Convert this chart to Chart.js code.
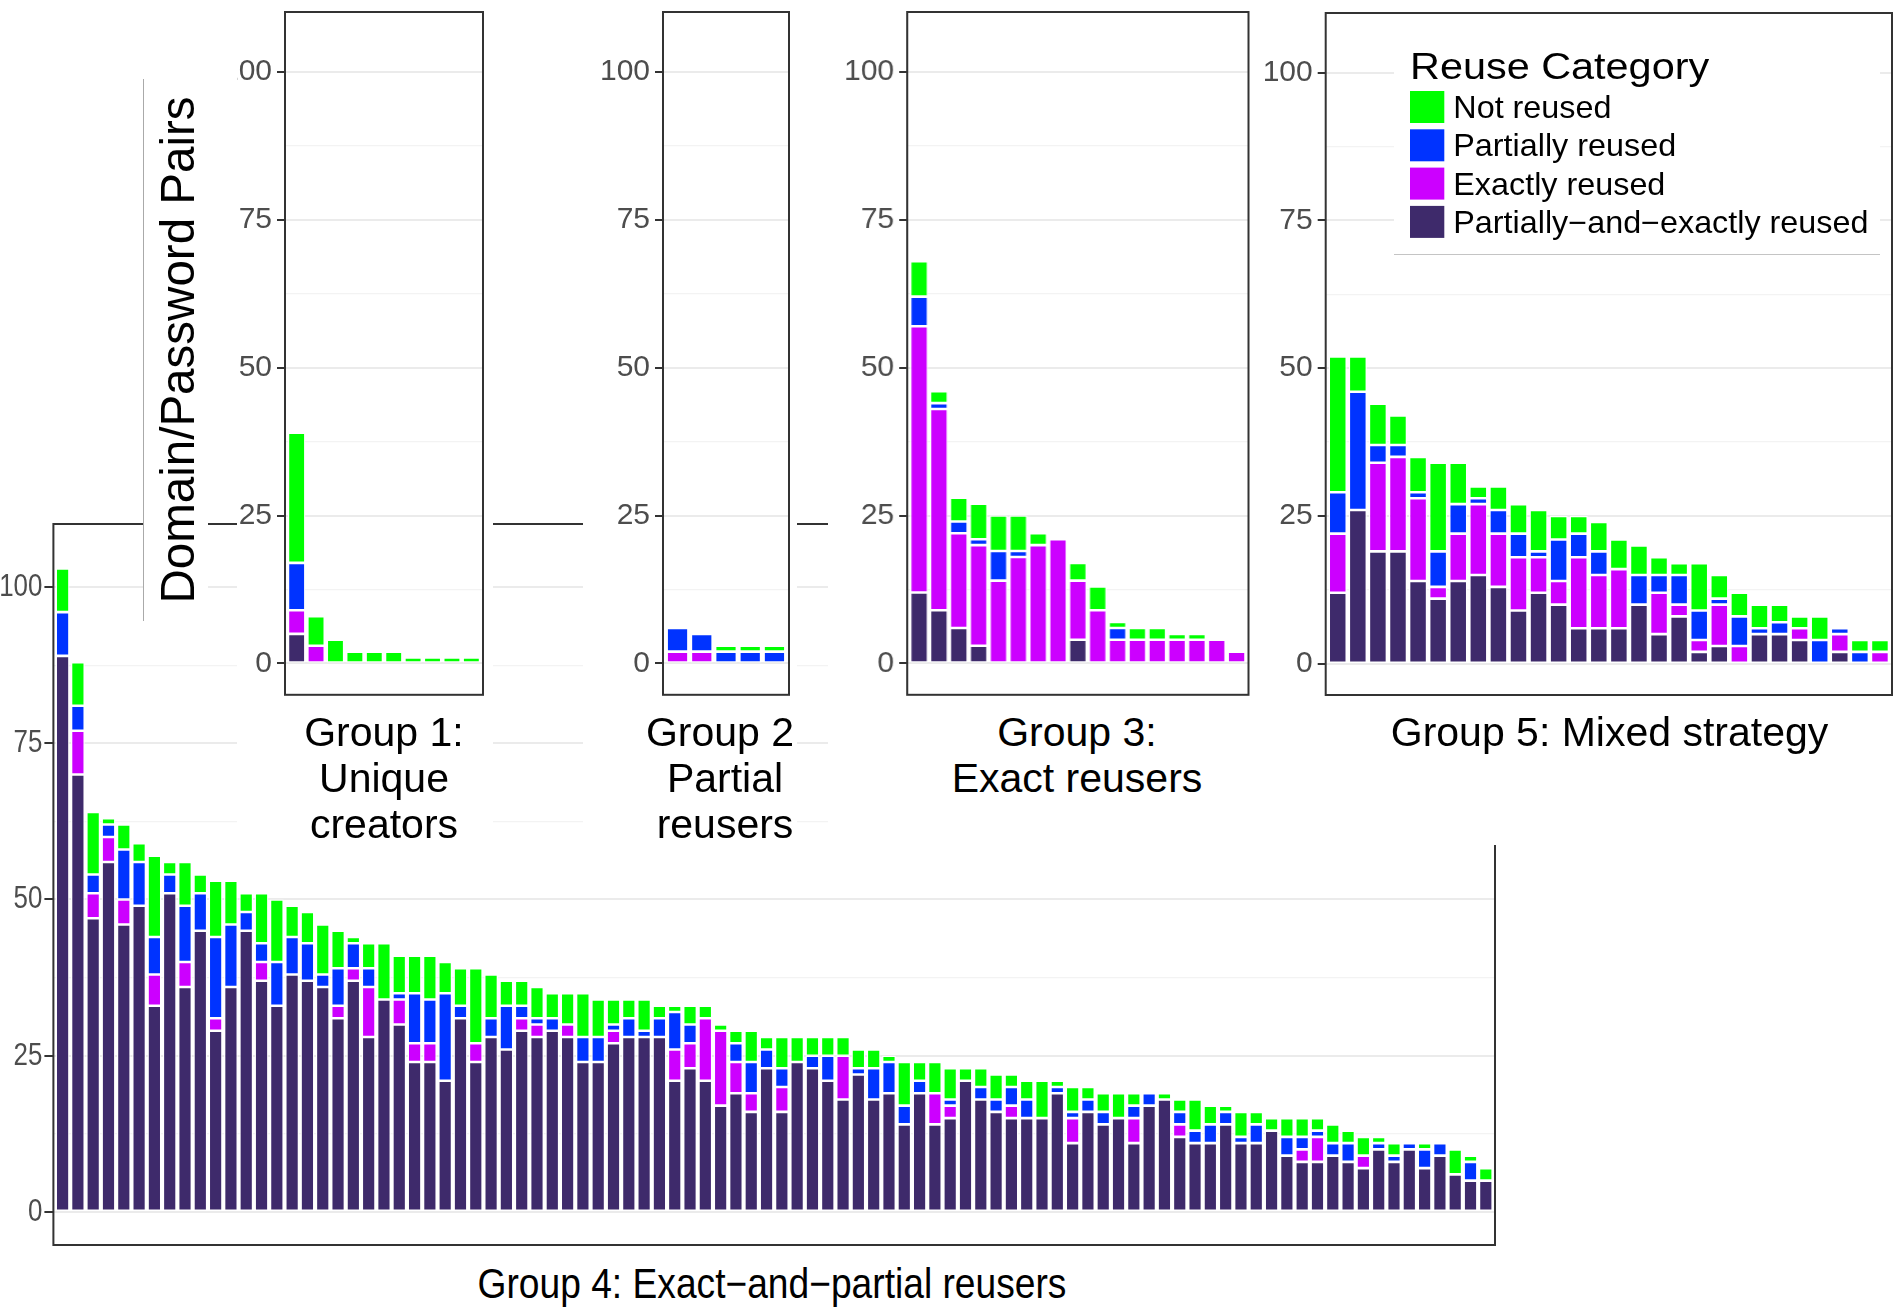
<!DOCTYPE html>
<html>
<head>
<meta charset="utf-8">
<script src="https://cdn.jsdelivr.net/npm/chart.js@4.4.1/dist/chart.umd.min.js"></script>
<style>
  body { margin: 0; width: 1901px; height: 1311px; position: relative; background: #fff; overflow: hidden; }
  .box { position: absolute; }
  .overlay { position: absolute; background: #fff; overflow: hidden; z-index: 2; }
  .ptitle { position: absolute; z-index: 3; font: 41px/46px 'Liberation Sans', Arial, sans-serif; color: #000; text-align: center; white-space: nowrap; }
</style>
</head>
<body>

<div class="box" style="left:0; top:520px; width:1500px; height:730px; z-index:1"><canvas id="g4"></canvas></div>
<div class="ptitle" style="left:372px; top:1263px; width:800px; font-size:42px; line-height:42px; transform:scaleX(0.885)">Group 4: Exact−and−partial reusers</div>

<div class="overlay" style="left:143px; top:79px; width:65px; height:542px; box-sizing:border-box; border-left:1px solid #aaa"></div>
<div class="ptitle" style="left:-122.5px; top:326px; width:600px; height:48px; font-size:48px; line-height:48px; transform:rotate(-90deg) scaleX(0.99)">Domain/Password Pairs</div>

<div class="overlay" style="left:237px; top:0; width:256px; height:845px">
  <div class="box" style="left:0; top:0; width:256px; height:702px"><canvas id="g1"></canvas></div>
</div>
<div class="overlay" style="left:583px; top:0; width:214px; height:845px">
  <div class="box" style="left:0; top:0; width:214px; height:702px"><canvas id="g2"></canvas></div>
</div>
<div class="overlay" style="left:828px; top:0; width:1073px; height:845px">
  <div class="box" style="left:0; top:0; width:427.5px; height:702px"><canvas id="g3"></canvas></div>
  <div class="box" style="left:422px; top:0; width:650px; height:702px"><canvas id="g5"></canvas></div>
</div>

<div class="ptitle" style="left:234px; top:709px; width:300px">Group 1:<br>Unique<br>creators</div>
<div class="ptitle" style="left:575px; top:709px; width:300px"><span style="position:relative; left:-5px">Group 2</span><br>Partial<br>reusers</div>
<div class="ptitle" style="left:877px; top:709px; width:400px">Group 3:<br>Exact reusers</div>
<div class="ptitle" style="left:1309.5px; top:709px; width:600px">Group 5: Mixed strategy</div>

<script>
const FONT = "'Liberation Sans', Arial, Helvetica, sans-serif";
Chart.defaults.font.family = FONT;

// legend categories and colours (order: top of stack first)
const legendTitle = 'Reuse Category';
const categories = ['Not reused', 'Partially reused', 'Exactly reused', 'Partially−and−exactly reused'];
const colors = ['#00FF00', '#0033FF', '#CC00FF', '#3E2A6B'];

const yTicks = [0, 25, 50, 75, 100];
const yMinor = [12.5, 37.5, 62.5, 87.5];

// Group 1: unique creators
const g1Not     = [22, 5, 4, 2, 2, 2, 1, 1, 1, 1];
const g1Partial = [8, 0, 0, 0, 0, 0, 0, 0, 0, 0];
const g1Exact   = [4, 3, 0, 0, 0, 0, 0, 0, 0, 0];
const g1Both    = [5, 0, 0, 0, 0, 0, 0, 0, 0, 0];

// Group 2: partial reusers
const g2Not     = [0, 0, 1, 1, 1];
const g2Partial = [4, 3, 2, 2, 2];
const g2Exact   = [2, 2, 0, 0, 0];
const g2Both    = [0, 0, 0, 0, 0];

// Group 3: exact reusers
const g3Not     = [6, 2, 4, 6, 6, 6, 2, 0, 3, 4, 1, 2, 2, 1, 1, 0, 0];
const g3Partial = [5, 1, 2, 1, 5, 1, 0, 0, 0, 0, 2, 0, 0, 0, 0, 0, 0];
const g3Exact   = [45, 34, 16, 17, 14, 18, 20, 21, 10, 9, 4, 4, 4, 4, 4, 4, 2];
const g3Both    = [12, 9, 6, 3, 0, 0, 0, 0, 4, 0, 0, 0, 0, 0, 0, 0, 0];

// Group 4: exact-and-partial reusers
const g4Not = [7, 7, 10, 1, 4, 3, 13, 2, 7, 3, 9, 7, 3, 8, 10, 5, 5, 8, 6, 1,
  4, 9, 6, 6, 7, 5, 6, 12, 7, 4, 4, 5, 4, 5, 7, 6, 4, 3, 5, 2,
  1, 3, 2, 1, 2, 5, 2, 5, 4, 3, 3, 3, 3, 3, 1, 7, 3, 5, 5, 2,
  3, 4, 2, 3, 6, 1, 4, 2, 3, 4, 2, 0, 1, 2, 5, 3, 1, 4, 2, 2,
  3, 3, 2, 3, 2, 3, 1, 2, 0, 1, 0, 4, 1, 2];
const g4Partial = [7, 4, 3, 2, 8, 7, 6, 3, 9, 6, 13, 10, 3, 3, 7, 6, 6, 2, 6, 4,
  3, 0, 1, 8, 7, 14, 2, 0, 3, 7, 2, 1, 2, 0, 4, 4, 1, 3, 1, 3,
  6, 3, 0, 0, 3, 5, 3, 3, 0, 2, 4, 0, 1, 5, 5, 3, 2, 0, 1, 0,
  2, 2, 3, 3, 0, 1, 1, 2, 2, 0, 2, 2, 0, 2, 2, 3, 2, 1, 3, 0,
  3, 2, 1, 2, 3, 0, 1, 1, 1, 3, 2, 0, 3, 0];
const g4Exact = [0, 7, 4, 4, 4, 0, 5, 0, 4, 0, 2, 0, 0, 3, 0, 0, 0, 0, 2, 2,
  8, 0, 4, 3, 3, 0, 0, 3, 0, 0, 2, 2, 0, 2, 0, 0, 2, 0, 0, 0,
  5, 4, 10, 12, 5, 3, 0, 4, 0, 0, 0, 7, 0, 0, 0, 0, 0, 5, 2, 0,
  0, 0, 2, 0, 0, 0, 4, 0, 0, 0, 4, 0, 0, 2, 0, 0, 0, 0, 0, 0,
  0, 2, 4, 0, 0, 2, 0, 0, 0, 0, 0, 0, 0, 0];
const g4Both = [89, 70, 47, 56, 46, 49, 33, 51, 36, 45, 29, 36, 45, 37, 33, 38, 37, 36, 31, 37,
  28, 34, 30, 24, 24, 21, 31, 24, 28, 26, 29, 28, 29, 28, 24, 24, 27, 28, 28, 28,
  21, 23, 21, 17, 19, 16, 23, 16, 24, 23, 21, 18, 22, 18, 19, 14, 19, 14, 15, 21,
  18, 16, 15, 15, 15, 19, 11, 16, 14, 15, 11, 17, 18, 12, 11, 11, 14, 11, 11, 13,
  9, 8, 8, 9, 8, 7, 10, 8, 10, 7, 9, 6, 5, 5];

// Group 5: mixed strategy
const g5Not     = [23, 6, 7, 5, 6, 15, 7, 2, 4, 5, 7, 4, 3, 5, 5, 5, 3, 2, 8, 4, 4, 4, 3, 2, 4, 0, 2, 2];
const g5Partial = [7, 20, 3, 2, 1, 6, 5, 1, 4, 4, 1, 7, 4, 4, 0, 5, 3, 5, 5, 1, 5, 1, 2, 0, 4, 1, 2, 0];
const g5Exact   = [10, 0, 15, 16, 14, 2, 8, 12, 9, 9, 6, 4, 12, 9, 10, 0, 7, 2, 2, 7, 3, 0, 0, 2, 0, 3, 0, 2];
const g5Both    = [12, 26, 19, 19, 14, 11, 14, 15, 13, 9, 12, 10, 6, 6, 6, 10, 5, 8, 2, 3, 0, 5, 5, 4, 0, 2, 0, 0];

const yGrid = yTicks.concat(yMinor).sort((a, b) => a - b);
const isMajor = c => c.tick && yTicks.includes(c.tick.value);

const panelBorder = {
    id: 'panelBorder',
    afterDraw(chart) {
        const a = chart.chartArea;
        const ctx = chart.ctx;
        ctx.save();
        ctx.strokeStyle = '#333333';
        ctx.lineWidth = 2;
        ctx.strokeRect(a.left, a.top, a.right - a.left, a.bottom - a.top);
        ctx.restore();
    }
};

// group 4 tick labels are squeezed sideways in the original
const narrowTicks = {
    id: 'narrowTicks',
    afterDraw(chart) {
        const ctx = chart.ctx;
        const y = chart.scales.y;
        ctx.save();
        ctx.font = '32px ' + FONT;
        ctx.fillStyle = '#4D4D4D';
        ctx.textAlign = 'right';
        ctx.textBaseline = 'middle';
        yTicks.forEach(v => {
            ctx.save();
            ctx.translate(chart.chartArea.left - 11, y.getPixelForValue(v));
            ctx.scale(0.81, 1);
            ctx.fillText(String(v), 0, 0);
            ctx.restore();
        });
        ctx.restore();
    }
};

// legend sits inside group 5 on a white patch
const legendBox = {
    id: 'legendBox',
    afterDraw(chart) {
        const ctx = chart.ctx;
        const ox = 1250;
        ctx.save();
        ctx.fillStyle = '#FFFFFF';
        ctx.fillRect(1394 - ox, 15, 486, 239);
        ctx.strokeStyle = '#C4C4C4';
        ctx.lineWidth = 1;
        ctx.beginPath();
        ctx.moveTo(1394 - ox, 254.5);
        ctx.lineTo(1880 - ox, 254.5);
        ctx.stroke();

        ctx.fillStyle = '#000';
        ctx.textBaseline = 'alphabetic';
        ctx.textAlign = 'left';
        ctx.save();
        ctx.translate(1410 - ox, 79);
        ctx.scale(1.15, 1);
        ctx.font = '36px ' + FONT;
        ctx.fillText(legendTitle, 0, 0);
        ctx.restore();

        categories.forEach((label, i) => {
            const ky = 91 + i * 38.3;
            ctx.fillStyle = colors[i];
            ctx.fillRect(1410 - ox, ky, 34.3, 32);
            ctx.save();
            ctx.translate(1453.3 - ox, ky + 27);
            ctx.scale(1.06, 1);
            ctx.font = '30.5px ' + FONT;
            ctx.fillStyle = '#000';
            ctx.fillText(label, 0, 0);
            ctx.restore();
        });
        ctx.restore();
    }
};

function makePanel(id, series, o) {
    const n = series[0].length;
    // bottom of the stack first
    const datasets = [3, 2, 1, 0].map(k => ({
        label: categories[k],
        data: series[k].map((v, i) => ({ x: i + 1, y: v })),
        backgroundColor: colors[k],
        borderColor: '#FFFFFF',
        borderWidth: 1.3,
        borderSkipped: false,
        barPercentage: 0.9,
        categoryPercentage: 1
    }));

    return new Chart(document.getElementById(id), {
        type: 'bar',
        data: { datasets: datasets },
        options: {
            animation: false,
            responsive: true,
            maintainAspectRatio: false,
            layout: { padding: o.padding },
            scales: {
                x: {
                    type: 'linear', min: 0.4, max: n + 0.6, offset: false,
                    stacked: true, display: false, grid: { offset: false }
                },
                y: {
                    stacked: true,
                    min: -5.3,
                    max: 110.1,
                    afterBuildTicks: s => { s.ticks = yGrid.map(v => ({ value: v })); },
                    afterFit: s => {
                        s.width = o.axisWidth;
                        s.paddingTop = 0;
                        s.paddingBottom = 0;
                    },
                    border: { display: false },
                    grid: {
                        color: c => isMajor(c) ? '#EBEBEB' : '#F3F3F3',
                        lineWidth: c => isMajor(c) ? 2 : 1.3,
                        tickColor: c => isMajor(c) ? '#333333' : 'rgba(0,0,0,0)',
                        tickWidth: 2,
                        tickLength: o.tickLength || 8
                    },
                    ticks: {
                        display: !o.narrow,
                        autoSkip: false,
                        padding: 5,
                        color: '#4D4D4D',
                        font: { size: 30, family: FONT },
                        callback: v => yTicks.includes(v) ? String(v) : ''
                    }
                }
            },
            plugins: {
                legend: { display: false },
                tooltip: { enabled: false }
            }
        },
        plugins: [panelBorder].concat(o.extra || [])
    });
}

document.addEventListener('DOMContentLoaded', () => {
    makePanel('g4', [g4Not, g4Partial, g4Exact, g4Both], {
        axisWidth: 53.4, tickLength: 9, narrow: true, extra: [narrowTicks],
        padding: { top: 4, right: 5, bottom: 5, left: 0 }
    });
    makePanel('g1', [g1Not, g1Partial, g1Exact, g1Both], {
        axisWidth: 48, padding: { top: 12, right: 10, bottom: 7.2, left: 0 }
    });
    makePanel('g2', [g2Not, g2Partial, g2Exact, g2Both], {
        axisWidth: 80, padding: { top: 12, right: 8, bottom: 7.2, left: 0 }
    });
    makePanel('g3', [g3Not, g3Partial, g3Exact, g3Both], {
        axisWidth: 79, padding: { top: 12, right: 8, bottom: 7.2, left: 0 }
    });
    makePanel('g5', [g5Not, g5Partial, g5Exact, g5Both], {
        axisWidth: 75.7, extra: [legendBox],
        padding: { top: 13, right: 8, bottom: 7, left: 0 }
    });
});
</script>
</body>
</html>
